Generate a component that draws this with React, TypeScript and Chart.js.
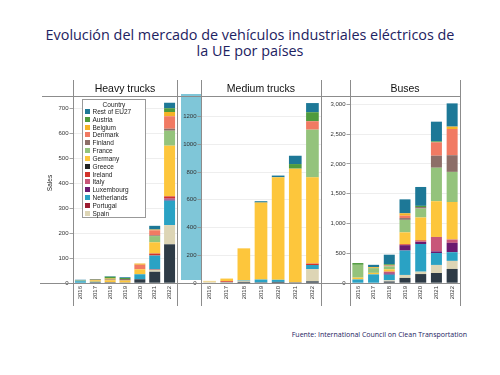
import React, { useEffect, useRef } from "react";
import { Chart, registerables } from "chart.js";
Chart.register(...registerables);

const years = ["2016", "2017", "2018", "2019", "2020", "2021", "2022"];

// stacking order bottom -> top
const countries = ["Sweden", "Spain", "Portugal", "Netherlands", "Luxembourg", "Italy", "Ireland", "Greece", "Germany", "France", "Finland", "Denmark", "Belgium", "Austria", "Rest of EU27"];
const countryColors = ["#2e3b46", "#ddd5b5", "#9c1c31", "#2aa2c4", "#6b1a6f", "#c85779", "#d3332a", "#232323", "#fdc63c", "#94c37c", "#8d6e68", "#f17a63", "#f5b326", "#4f9b3d", "#1d7897"];
// legend entries (top -> bottom), as shown in the picture
const legendCountries = ["Rest of EU27", "Austria", "Belgium", "Denmark", "Finland", "France", "Germany", "Greece", "Ireland", "Italy", "Luxembourg", "Netherlands", "Portugal", "Spain"];

// y tick values per panel
const heavyTicks = [0, 100, 200, 300, 400, 500, 600, 700];
const mediumTicks = [0, 200, 400, 600, 800, 1000, 1200];
const busesTicks = [0, 500, 1000, 1500, 2000, 2500, 3000];

// Heavy trucks
const heavySweden = [0, 3, 3, 2, 15, 45, 155];
const heavySpain = [0, 0, 0, 0, 0, 8, 77];
const heavyPortugal = [0, 0, 0, 0, 0, 2, 0];
const heavyNetherlands = [7, 2, 0, 0, 20, 55, 98];
const heavyLuxembourg = [0, 0, 0, 0, 0, 0, 4];
const heavyItaly = [0, 0, 0, 0, 0, 0, 6];
const heavyIreland = [0, 0, 0, 0, 0, 8, 7];
const heavyGreece = [0, 0, 0, 0, 0, 0, 0];
const heavyGermany = [0, 6, 8, 8, 20, 45, 203];
const heavyFrance = [3, 0, 0, 0, 0, 25, 60];
const heavyFinland = [0, 3, 3, 6, 0, 3, 8];
const heavyDenmark = [0, 0, 0, 0, 18, 20, 50];
const heavyBelgium = [0, 0, 4, 0, 5, 3, 17];
const heavyAustria = [0, 2, 7, 4, 0, 0, 15];
const heavyRest = [3, 0, 2, 3, 0, 15, 22];

// Medium trucks
const mediumSweden = [0, 4, 8, 5, 8, 5, 12];
const mediumSpain = [10, 4, 8, 0, 0, 0, 88];
const mediumPortugal = [0, 0, 0, 0, 0, 0, 0];
const mediumNetherlands = [0, 0, 4, 20, 15, 0, 30];
const mediumLuxembourg = [0, 0, 0, 0, 0, 0, 0];
const mediumItaly = [0, 0, 0, 0, 0, 0, 0];
const mediumIreland = [0, 6, 0, 0, 0, 0, 10];
const mediumGreece = [0, 0, 0, 0, 0, 0, 0];
const mediumGermany = [5, 18, 230, 555, 740, 820, 622];
const mediumFrance = [0, 0, 0, 0, 0, 0, 344];
const mediumFinland = [0, 0, 0, 0, 0, 0, 0];
const mediumDenmark = [0, 0, 0, 0, 0, 0, 61];
const mediumBelgium = [0, 0, 0, 0, 0, 0, 0];
const mediumAustria = [0, 0, 0, 0, 0, 33, 65];
const mediumRest = [0, 0, 0, 10, 12, 60, 66];

// Buses
const busesSweden = [5, 5, 25, 85, 150, 168, 236];
const busesSpain = [0, 0, 20, 50, 40, 135, 135];
const busesPortugal = [0, 0, 0, 0, 0, 0, 0];
const busesNetherlands = [55, 140, 95, 410, 465, 200, 146];
const busesLuxembourg = [0, 0, 20, 90, 35, 28, 157];
const busesItaly = [0, 0, 30, 0, 10, 242, 56];
const busesIreland = [0, 0, 0, 15, 15, 0, 0];
const busesGreece = [0, 0, 0, 0, 0, 0, 0];
const busesGermany = [30, 25, 40, 200, 385, 600, 630];
const busesFrance = [215, 80, 50, 210, 150, 562, 505];
const busesFinland = [0, 0, 0, 30, 25, 202, 280];
const busesDenmark = [0, 0, 15, 40, 0, 225, 440];
const busesBelgium = [0, 15, 0, 40, 0, 0, 40];
const busesAustria = [30, 0, 20, 0, 20, 15, 0];
const busesRest = [0, 40, 160, 234, 317, 331, 390];

const heavySeries = [heavySweden, heavySpain, heavyPortugal, heavyNetherlands, heavyLuxembourg, heavyItaly, heavyIreland, heavyGreece, heavyGermany, heavyFrance, heavyFinland, heavyDenmark, heavyBelgium, heavyAustria, heavyRest];
const mediumSeries = [mediumSweden, mediumSpain, mediumPortugal, mediumNetherlands, mediumLuxembourg, mediumItaly, mediumIreland, mediumGreece, mediumGermany, mediumFrance, mediumFinland, mediumDenmark, mediumBelgium, mediumAustria, mediumRest];
const busesSeries = [busesSweden, busesSpain, busesPortugal, busesNetherlands, busesLuxembourg, busesItaly, busesIreland, busesGreece, busesGermany, busesFrance, busesFinland, busesDenmark, busesBelgium, busesAustria, busesRest];

const FONT = "'Liberation Sans', Arial, sans-serif";
const TITLE_FONT = "'Open Sans', 'Noto Sans', sans-serif";
const LINE = "#8c8c8c";

type PanelProps = {
  series: number[][];
  ticks: number[];
  max: number;
  fmt: (v: number) => string;
  left: number;
  plotWidth: number;
  yWidth: number;
  barPct: number;
};

function Panel({ series, ticks, max, fmt, left, plotWidth, yWidth, barPct }: PanelProps) {
  const ref = useRef<HTMLCanvasElement | null>(null);
  const plotHeight = 187;
  const xHeight = 25;
  useEffect(() => {
    if (!ref.current) return;
    const chart = new Chart(ref.current, {
      type: "bar",
      data: {
        labels: years,
        datasets: series.map((d, i) => ({
          label: countries[i],
          data: d,
          backgroundColor: countryColors[i],
          borderWidth: 0,
          categoryPercentage: 1,
          barPercentage: barPct,
        })),
      },
      options: {
        responsive: false,
        animation: false,
        devicePixelRatio: 1,
        layout: { padding: 0 },
        plugins: { legend: { display: false }, tooltip: { enabled: false } },
        scales: {
          x: {
            stacked: true,
            grid: { display: false, drawTicks: false },
            border: { display: false },
            ticks: {
              minRotation: 90,
              maxRotation: 90,
              autoSkip: false,
              padding: 3,
              color: "#333",
              font: { family: FONT, size: 6 },
            },
            afterFit: (s: any) => {
              s.height = xHeight;
              s.paddingLeft = 0;
              s.paddingRight = 0;
            },
          },
          y: {
            stacked: true,
            min: 0,
            max,
            grid: { color: "#e2e2e2", lineWidth: 0.6, tickLength: 3.5, tickColor: LINE, tickWidth: 0.8 },
            border: { display: false },
            ticks: {
              autoSkip: false,
              padding: 1,
              color: "#333",
              font: { family: FONT, size: 6 },
              callback: (v: any) => fmt(Number(v)),
            },
            afterBuildTicks: (s: any) => {
              s.ticks = ticks.map((v) => ({ value: v }));
            },
            afterFit: (s: any) => {
              s.width = yWidth;
              s.paddingTop = 0;
              s.paddingBottom = 0;
            },
          },
        },
      } as any,
    });
    return () => chart.destroy();
  }, []);
  return (
    <canvas
      ref={ref}
      width={yWidth + plotWidth}
      height={plotHeight + xHeight}
      style={{ position: "absolute", left: left - yWidth, top: 96, width: yWidth + plotWidth, height: plotHeight + xHeight }}
    />
  );
}

function VLine({ x }: { x: number }) {
  return <div style={{ position: "absolute", left: x - 0.4, top: 80, width: 0.8, height: 226, background: LINE }} />;
}
function HLine({ y, x1, x2 }: { y: number; x1: number; x2: number }) {
  return <div style={{ position: "absolute", left: x1, top: y - 0.4, width: x2 - x1, height: 0.8, background: LINE }} />;
}

function Strip({ text, x1, x2 }: { text: string; x1: number; x2: number }) {
  return (
    <div style={{ position: "absolute", left: x1, top: 81, width: x2 - x1, height: 14, lineHeight: "14px", textAlign: "center", fontFamily: FONT, fontSize: 10.5, color: "#111" }}>
      {text}
    </div>
  );
}

export default function App() {
  useEffect(() => {
    document.body.style.margin = "0";
  }, []);
  return (
    <div style={{ position: "fixed", left: 0, top: 0, width: 500, height: 375, background: "#fff", overflow: "hidden" }}>
      <div style={{ position: "absolute", left: 0, top: 27, width: 500, textAlign: "center", fontFamily: TITLE_FONT, fontSize: 14.4, lineHeight: "16px", color: "#1d2261" }}>
        Evolución del mercado de vehículos industriales eléctricos de
        <br />
        la UE por países
      </div>

      <div style={{ position: "absolute", left: 181, top: 94, width: 20.5, height: 186, background: "#7fc6d8" }} />

      <Panel series={heavySeries} ticks={heavyTicks} max={749} fmt={(v) => String(v)} left={73} plotWidth={104} yWidth={33} barPct={0.74} />
      <Panel series={mediumSeries} ticks={mediumTicks} max={1349} fmt={(v) => String(v)} left={201} plotWidth={120} yWidth={24} barPct={0.74} />
      <Panel series={busesSeries} ticks={busesTicks} max={3139} fmt={(v) => v.toLocaleString("en-US")} left={350} plotWidth={110} yWidth={29} barPct={0.7} />

      <HLine y={96} x1={42} x2={460} />
      <HLine y={283} x1={40} x2={460} />
      {[73, 177, 201, 321, 350, 460].map((x) => (
        <VLine key={x} x={x} />
      ))}

      <Strip text="Heavy trucks" x1={73} x2={177} />
      <Strip text="Medium trucks" x1={201} x2={321} />
      <Strip text="Buses" x1={350} x2={460} />

      <div style={{ position: "absolute", left: 49, top: 183, transform: "translate(-50%, -50%) rotate(-90deg)", fontFamily: FONT, fontSize: 6.5, color: "#222", whiteSpace: "nowrap" }}>
        Sales
      </div>

      <div style={{ position: "absolute", left: 82, top: 99, width: 64, height: 119, boxSizing: "border-box", border: "0.6px solid #999", background: "#fff", fontFamily: FONT, fontSize: 6.5, color: "#222" }}>
        <div style={{ position: "absolute", left: 0, top: 0.5, width: "100%", textAlign: "center", lineHeight: "7px" }}>Country</div>
        {legendCountries.map((c, i) => (
          <div key={c} style={{ position: "absolute", left: 2, top: 7.6 + i * 7.82, height: 7.82, display: "flex", alignItems: "center", whiteSpace: "nowrap" }}>
            <span style={{ display: "inline-block", width: 5, height: 5, background: countryColors[countries.indexOf(c)], marginRight: 2.5 }} />
            <span style={{ lineHeight: "7px" }}>{c}</span>
          </div>
        ))}
      </div>

      <div style={{ position: "absolute", right: 33, top: 330, fontFamily: TITLE_FONT, fontSize: 7, lineHeight: "10px", color: "#1d2261", whiteSpace: "nowrap" }}>
        Fuente: International Council on Clean Transportation
      </div>
    </div>
  );
}
